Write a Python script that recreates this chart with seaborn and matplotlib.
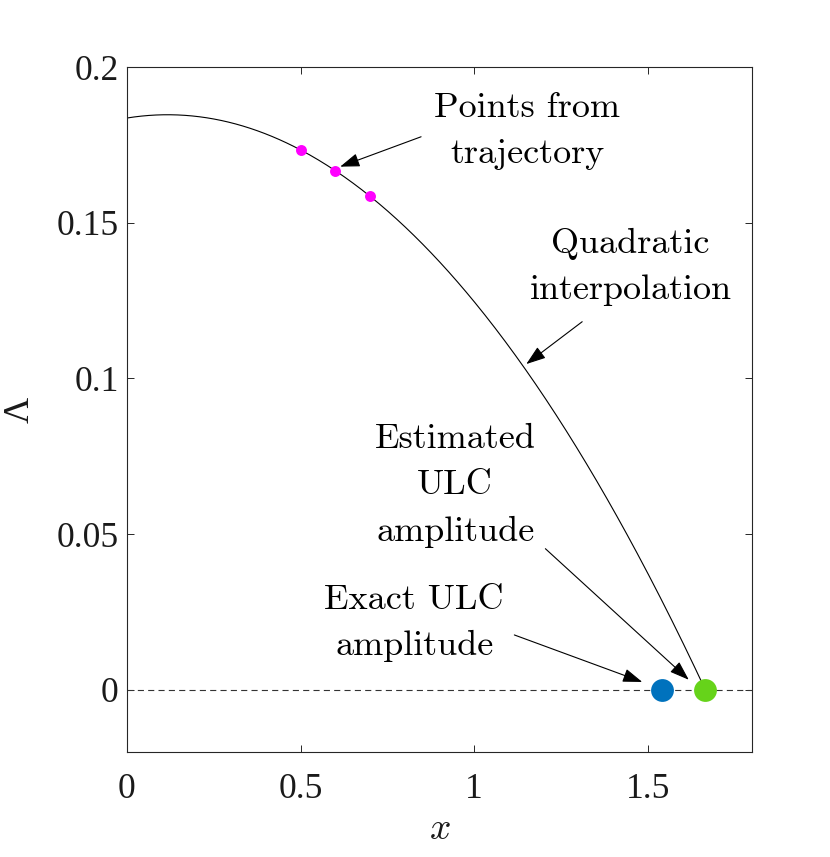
import numpy as np
import matplotlib
matplotlib.use("Agg")
import matplotlib.pyplot as plt
import seaborn as sns
import pandas as pd

# pontos da trajetoria (x, Lambda)
traj_x = [0.5, 0.6, 0.7]
traj_lam = [0.17337, 0.16670, 0.15849]

# amplitude exata do ULC
exact_amp = 1.54

x_ticks = [0, 0.5, 1, 1.5]
x_tick_labels = ["0", "0.5", "1", "1.5"]
y_ticks = [0, 0.05, 0.1, 0.15, 0.2]
y_tick_labels = ["0", "0.05", "0.1", "0.15", "0.2"]

sns.set_style("ticks")
plt.rcParams["mathtext.fontset"] = "cm"
plt.rcParams["font.family"] = ["Liberation Serif", "DejaVu Serif"]

# interpolacao quadratica pelos tres pontos
coefs = np.polyfit(traj_x, traj_lam, 2)
roots = np.roots(coefs)
est_amp = float(np.max(roots.real))
xs = np.linspace(0, est_amp, 400)
curve = pd.DataFrame({"x": xs, "lam": np.polyval(coefs, xs)})

fig = plt.figure(figsize=(8.3, 8.57), dpi=100)
ax = fig.add_axes([0.1530, 0.1225, 0.7530, 0.7993])

ax.axhline(0, color="#333333", lw=0.8, ls=(0, (5.5, 3.8)), zorder=1)
sns.lineplot(data=curve, x="x", y="lam", color="black", lw=0.8, ax=ax, zorder=2)
sns.scatterplot(x=traj_x, y=traj_lam, color="#ff00ff", s=62, linewidth=0, ax=ax, zorder=3)
sns.scatterplot(x=[exact_amp], y=[0], color="#0072bd", s=270, linewidth=0, ax=ax, zorder=3)
sns.scatterplot(x=[est_amp], y=[0], color="#66d31a", s=270, linewidth=0, ax=ax, zorder=3)

ax.set_xlim(0, 1.8)
ax.set_ylim(-0.02, 0.2)
ax.set_xticks(x_ticks)
ax.set_xticklabels(x_tick_labels)
ax.set_yticks(y_ticks)
ax.set_yticklabels(y_tick_labels)
ax.tick_params(direction="in", length=5, width=0.7, labelsize=25.5, color="#262626",
               labelcolor="#1a1a1a", top=True, right=True)
ax.tick_params(axis="x", pad=15)
ax.tick_params(axis="y", pad=6)
for s in ax.spines.values():
    s.set_visible(True)
    s.set_color("#262626")
    s.set_linewidth(0.8)

ax.set_xlabel("$x$", fontsize=27, labelpad=5, color="#1a1a1a")
ax.set_ylabel("Λ", fontsize=26, labelpad=14, color="#1a1a1a")

# anotacoes: (texto, posicao do texto, cauda da seta, ponta da seta)
notes = [
    ("Points from\ntrajectory", (1.153, 0.1795), (0.847, 0.1776), (0.614, 0.168)),
    ("Quadratic\ninterpolation", (1.450, 0.1357), (1.311, 0.1182), (1.150, 0.1046)),
    ("Estimated\nULC\namplitude", (0.9455, 0.0656), (1.205, 0.0453), (1.618, 0.0032)),
    ("Exact ULC\namplitude", (0.827, 0.0214), (1.1156, 0.0176), (1.484, 0.0025)),
]
for txt, pos, tail, head in notes:
    ax.text(pos[0], pos[1], txt, ha="center", va="center", multialignment="center",
            fontsize=26, family="cmr10", linespacing=1.58, color="black")
    ax.annotate("", xy=head, xytext=tail,
                arrowprops=dict(arrowstyle="-|>,head_length=1.0,head_width=0.35",
                                color="black", lw=0.8, shrinkA=0, shrinkB=0,
                                mutation_scale=12))

fig.savefig("out.png", dpi=100)
